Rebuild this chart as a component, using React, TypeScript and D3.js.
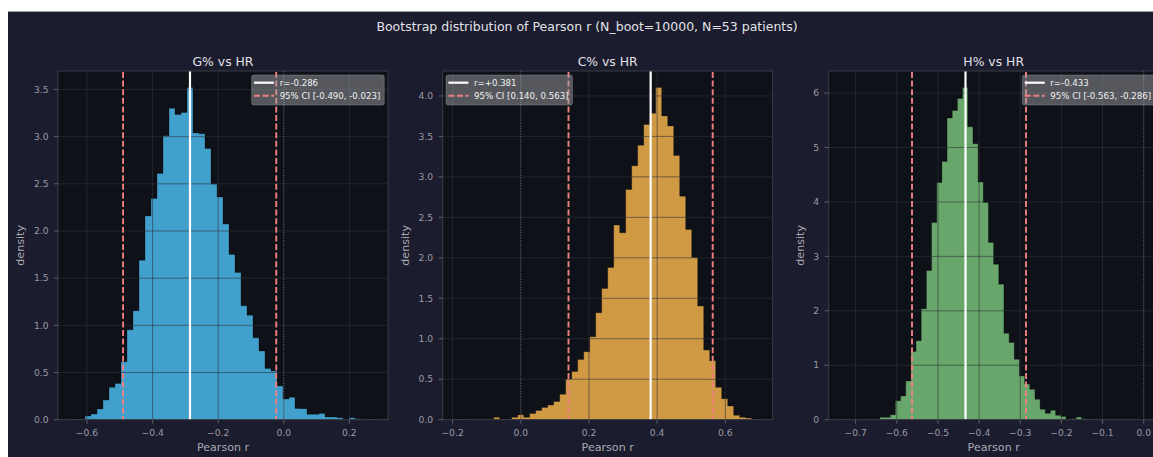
import React from "react";
import * as d3 from "d3";

// ---- data ----
const SUPTITLE = "Bootstrap distribution of Pearson r (N_boot=10000, N=53 patients)";
const panelTitles = ["G% vs HR", "C% vs HR", "H% vs HR"];

// bootstrap histogram densities (50 bins each)
const gDensity = [
  0.007, 0.007, 0.039, 0.06, 0.113, 0.208, 0.343, 0.385, 0.615, 0.954,
  1.155, 1.69, 2.16, 2.345, 2.61, 3.01, 3.3, 3.235, 3.256, 3.52,
  3.04, 3.03, 2.875, 2.497, 2.36, 2.073, 1.752, 1.561, 1.208, 1.108,
  0.869, 0.728, 0.544, 0.516, 0.357, 0.219, 0.237, 0.12, 0.117, 0.057,
  0.057, 0.067, 0.028, 0.028, 0.02, 0, 0.02, 0.01, 0, 0.007,
];
const cDensity = [
  0.01, 0.006, 0, 0, 0, 0, 0.029, 0.008, 0.008, 0.029,
  0.062, 0.029, 0.078, 0.115, 0.152, 0.181, 0.226, 0.313, 0.502, 0.597,
  0.745, 0.84, 1.025, 1.321, 1.622, 1.881, 2.404, 2.309, 2.844, 3.136,
  3.391, 3.647, 3.786, 4.103, 3.753, 3.63, 3.264, 2.762, 2.35, 2.005,
  1.404, 0.86, 0.728, 0.4, 0.26, 0.169, 0.054, 0.029, 0.02, 0.008,
];
const hDensity = [
  0.008, 0, 0, 0, 0, 0, 0, 0.043, 0.043, 0.092,
  0.35, 0.436, 0.712, 1.252, 1.448, 2.04, 2.74, 3.62, 4.357, 4.743,
  5.54, 5.68, 5.9, 6.1, 5.38, 5.068, 4.364, 3.99, 3.254, 2.856,
  2.489, 1.588, 1.417, 1.11, 0.804, 0.656, 0.558, 0.374, 0.19, 0.117,
  0.172, 0.08, 0.061, 0.012, 0.018, 0.049, 0.018, 0, 0.012, 0.006,
];
const densities = [gDensity, cDensity, hDensity];

// histogram range (first and last bin edge)
const binLo = [-0.6427, -0.185, -0.729];
const binHi = [0.272, 0.695, -0.101];

const observedR = [-0.286, 0.381, -0.433];
const ciLow = [-0.49, 0.14, -0.563];
const ciHigh = [-0.023, 0.563, -0.286];

const xTicks = [
  [-0.6, -0.4, -0.2, 0.0, 0.2],
  [-0.2, 0.0, 0.2, 0.4, 0.6],
  [-0.7, -0.6, -0.5, -0.4, -0.3, -0.2, -0.1, 0.0],
];
const yTicks = [
  [0, 0.5, 1, 1.5, 2, 2.5, 3, 3.5],
  [0, 0.5, 1, 1.5, 2, 2.5, 3, 3.5, 4],
  [0, 1, 2, 3, 4, 5, 6],
];
const yTickFormat = [".1f", ".1f", ".0f"];
const histColors = ["#42a0cc", "#d09a45", "#68a66c"];
const legendSide = ["right", "left", "right"];

// ---- layout ----
const FONT = "'DejaVu Sans', Verdana, sans-serif";
const AX_LEFT = [58, 442.7, 828.7];
const AX_W = 330;
const AX_TOP = 71;
const AX_BOTTOM = 419.7;

const FIG_BG = "#1b1c2e";
const AX_BG = "#0e1117";
const GRID = "#30333b";
const SPINE = "#3a3c47";
const TICK_TEXT = "#9a9ba4";
const LABEL_TEXT = "#a9aab2";
const TITLE_TEXT = "#e2e2e6";
const CI_COLOR = "#f08080";
const CI_DASH = "6 2.6";

let measureCtx: CanvasRenderingContext2D | null = null;
function textWidth(s: string, size: number): number {
  if (!measureCtx) {
    const c = document.createElement("canvas");
    measureCtx = c.getContext("2d");
  }
  if (!measureCtx) return s.length * size * 0.6;
  measureCtx.font = `${size}px "DejaVu Sans"`;
  return measureCtx.measureText(s).width;
}

function Panel({ i }: { i: number }) {
  const left = AX_LEFT[i];
  const right = left + AX_W;
  const top = AX_TOP;
  const bottom = AX_BOTTOM;
  const dens = densities[i];
  const lo = binLo[i];
  const hi = binHi[i];
  const bw = (hi - lo) / dens.length;

  // data limits include the zero reference line, then 5% margins
  const dLo = Math.min(lo, 0);
  const dHi = Math.max(hi, 0);
  const pad = 0.05 * (dHi - dLo);
  const x = d3.scaleLinear().domain([dLo - pad, dHi + pad]).range([left, right]);
  const y = d3
    .scaleLinear()
    .domain([0, (d3.max(dens) as number) * 1.05])
    .range([bottom, top]);

  const pts: [number, number][] = dens.map((d, k) => [lo + k * bw, d]);
  pts.push([hi, dens[dens.length - 1]]);
  const area = d3
    .area<[number, number]>()
    .x((p) => x(p[0]))
    .y0(y(0))
    .y1((p) => y(p[1]))
    .curve(d3.curveStepAfter);

  const yFmt = d3.format(yTickFormat[i]);
  const xFmt = d3.format(".1f");
  const tickSize = 9.2;
  const yLabels = yTicks[i].map((t) => yFmt(t));
  const maxYLabelW = Math.max(...yLabels.map((s) => textWidth(s, tickSize)));
  const yLabelEnd = left - 9.5;
  const densityX = yLabelEnd - maxYLabelW - 9.5;

  // legend
  const r = observedR[i];
  const lab1 = `r=${r >= 0 ? "+" : ""}${r.toFixed(3)}`;
  const lab2 = `95% CI [${ciLow[i].toFixed(3)}, ${ciHigh[i].toFixed(3)}]`;
  const legSize = 8.6;
  const legW = 28 + Math.max(textWidth(lab1, legSize), textWidth(lab2, legSize)) + 4;
  const legH = 30;
  const legX = legendSide[i] === "right" ? right - 3.7 - legW : left + 3.3;
  const legY = top + 4;
  const row1 = legY + 7.7;
  const row2 = legY + 20.7;

  const clipId = `clip-${i}`;

  return (
    <g>
      <defs>
        <clipPath id={clipId}>
          <rect x={left} y={top} width={AX_W} height={bottom - top} />
        </clipPath>
      </defs>
      <rect x={left} y={top} width={AX_W} height={bottom - top} fill={AX_BG} />

      <g clipPath={`url(#${clipId})`}>
        <path
          d={area(pts) as string}
          fill={histColors[i]}
          stroke="#000"
          strokeOpacity={0.35}
          strokeWidth={0.8}
        />
        {/* grid */}
        {xTicks[i].map((t) => (
          <line
            key={`gx${t}`}
            x1={x(t)}
            x2={x(t)}
            y1={top}
            y2={bottom}
            stroke={GRID}
            strokeOpacity={0.75}
            strokeWidth={0.8}
          />
        ))}
        {yTicks[i].map((t) => (
          <line
            key={`gy${t}`}
            x1={left}
            x2={right}
            y1={y(t)}
            y2={y(t)}
            stroke={GRID}
            strokeOpacity={0.75}
            strokeWidth={0.8}
          />
        ))}
        {/* zero reference */}
        <line
          x1={x(0)}
          x2={x(0)}
          y1={top}
          y2={bottom}
          stroke="#8a8a90"
          strokeOpacity={0.8}
          strokeWidth={0.8}
          strokeDasharray="1 1.6"
        />
        {/* confidence interval */}
        {[ciLow[i], ciHigh[i]].map((v, k) => (
          <line
            key={`ci${k}`}
            x1={x(v)}
            x2={x(v)}
            y1={top + 1}
            y2={bottom}
            stroke={CI_COLOR}
            strokeWidth={1.9}
            strokeDasharray={CI_DASH}
          />
        ))}
        {/* observed r */}
        <line x1={x(r)} x2={x(r)} y1={top} y2={bottom} stroke="#ffffff" strokeWidth={2.2} />
      </g>

      <rect
        x={left}
        y={top}
        width={AX_W}
        height={bottom - top}
        fill="none"
        stroke={SPINE}
        strokeWidth={1}
      />

      {/* x ticks */}
      {xTicks[i].map((t) => (
        <g key={`xt${t}`}>
          <line x1={x(t)} x2={x(t)} y1={bottom} y2={bottom + 4} stroke="#6d6f78" strokeWidth={0.8} />
          <text x={x(t)} y={bottom + 16.3} textAnchor="middle" fontSize={tickSize} fill={TICK_TEXT}>
            {xFmt(t)}
          </text>
        </g>
      ))}
      {/* y ticks */}
      {yTicks[i].map((t, k) => (
        <g key={`yt${t}`}>
          <line x1={left - 4} x2={left} y1={y(t)} y2={y(t)} stroke="#6d6f78" strokeWidth={0.8} />
          <text
            x={yLabelEnd}
            y={y(t)}
            dy="0.35em"
            textAnchor="end"
            fontSize={tickSize}
            fill={TICK_TEXT}
          >
            {yLabels[k]}
          </text>
        </g>
      ))}

      <text
        x={(left + right) / 2}
        y={450.7}
        textAnchor="middle"
        fontSize={11.1}
        fill={LABEL_TEXT}
      >
        Pearson r
      </text>
      <text
        transform={`translate(${densityX},${(top + bottom) / 2}) rotate(-90)`}
        textAnchor="middle"
        fontSize={11.1}
        fill={LABEL_TEXT}
      >
        density
      </text>
      <text x={(left + right) / 2} y={top - 5.5} textAnchor="middle" fontSize={12.4} fill={TITLE_TEXT}>
        {panelTitles[i]}
      </text>

      {/* legend */}
      <rect
        x={legX}
        y={legY}
        width={legW}
        height={legH}
        rx={2}
        fill="#9c9da4"
        fillOpacity={0.5}
        stroke="#b0b1b8"
        strokeOpacity={0.4}
        strokeWidth={0.8}
      />
      <line x1={legX + 2.4} x2={legX + 22.4} y1={row1} y2={row1} stroke="#ffffff" strokeWidth={2.2} />
      <line
        x1={legX + 2.4}
        x2={legX + 22.4}
        y1={row2}
        y2={row2}
        stroke={CI_COLOR}
        strokeWidth={1.9}
        strokeDasharray={CI_DASH}
      />
      <text x={legX + 28} y={row1} dy="0.35em" fontSize={legSize} fill="#f2f2f2">
        {lab1}
      </text>
      <text x={legX + 28} y={row2} dy="0.35em" fontSize={legSize} fill="#f2f2f2">
        {lab2}
      </text>
    </g>
  );
}

export default function App() {
  return (
    <svg
      width={1145}
      height={446}
      style={{ position: "absolute", left: 8, top: 11, display: "block" }}
      fontFamily={FONT}
    >
      <g transform="translate(-8,-11)">
        <rect x={8} y={11} width={1145} height={446} fill={FIG_BG} />
        <line x1={8} x2={1153} y1={11.5} y2={11.5} stroke="#9d9eac" strokeWidth={1} />
        <text x={587} y={30.5} textAnchor="middle" fontSize={12.5} fill={TITLE_TEXT}>
          {SUPTITLE}
        </text>
        {[0, 1, 2].map((i) => (
          <Panel key={i} i={i} />
        ))}
      </g>
    </svg>
  );
}
